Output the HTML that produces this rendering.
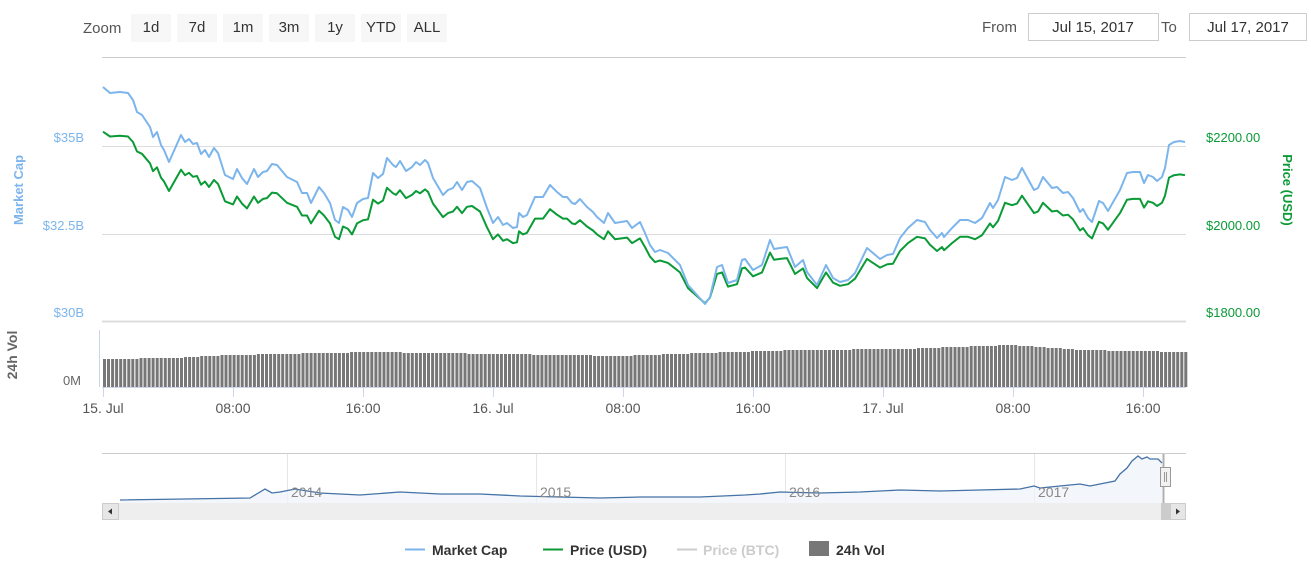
<!DOCTYPE html>
<html><head><meta charset="utf-8"><style>
body{margin:0;background:#fff;font-family:"Liberation Sans","DejaVu Sans",sans-serif;}
svg{display:block}
</style></head><body>
<svg id="s" width="1311" height="567" xmlns="http://www.w3.org/2000/svg" font-family="Liberation Sans, DejaVu Sans, sans-serif">
<text x="83" y="33" font-size="15" fill="#555">Zoom</text>
<g font-size="15" fill="#333" text-anchor="middle">
<rect x="131" y="14" width="40" height="28" fill="#f7f7f7"/><text x="151" y="32">1d</text>
<rect x="177" y="14" width="40" height="28" fill="#f7f7f7"/><text x="197" y="32">7d</text>
<rect x="223" y="14" width="40" height="28" fill="#f7f7f7"/><text x="243" y="32">1m</text>
<rect x="269" y="14" width="40" height="28" fill="#f7f7f7"/><text x="289" y="32">3m</text>
<rect x="315" y="14" width="40" height="28" fill="#f7f7f7"/><text x="335" y="32">1y</text>
<rect x="361" y="14" width="40" height="28" fill="#f7f7f7"/><text x="381" y="32">YTD</text>
<rect x="407" y="14" width="40" height="28" fill="#f7f7f7"/><text x="427" y="32">ALL</text>
</g>
<text x="982" y="32" font-size="15" fill="#555">From</text>
<rect x="1028.5" y="13.5" width="130" height="27" fill="#fff" stroke="#ccc"/>
<text x="1093" y="32" font-size="15" fill="#333" text-anchor="middle">Jul 15, 2017</text>
<text x="1161" y="32" font-size="15" fill="#555">To</text>
<rect x="1189.5" y="13.5" width="117" height="27" fill="#fff" stroke="#ccc"/>
<text x="1248" y="32" font-size="15" fill="#333" text-anchor="middle">Jul 17, 2017</text>

<line x1="102" y1="57.5" x2="1186" y2="57.5" stroke="#ccc"/>
<line x1="102" y1="146.5" x2="1186" y2="146.5" stroke="#ddd"/>
<line x1="102" y1="234.5" x2="1186" y2="234.5" stroke="#ddd"/>
<line x1="102" y1="321.5" x2="1186" y2="321.5" stroke="#ddd" stroke-width="2"/>
<g font-size="13" fill="#7cb5ec" text-anchor="end">
<text x="84" y="142">$35B</text><text x="84" y="230">$32.5B</text><text x="84" y="317">$30B</text>
</g>
<g font-size="13" fill="#0a9a36">
<text x="1206" y="142">$2200.00</text><text x="1206" y="230">$2000.00</text><text x="1206" y="317">$1800.00</text>
</g>
<text transform="translate(23,190) rotate(-90)" font-size="13" font-weight="bold" fill="#7cb5ec" text-anchor="middle">Market Cap</text>
<text transform="translate(1283,190) rotate(90)" font-size="13" font-weight="bold" fill="#0a9a36" text-anchor="middle">Price (USD)</text>
<text transform="translate(17,355) rotate(-90)" font-size="14" font-weight="bold" fill="#666" text-anchor="middle">24h Vol</text>
<text x="81" y="385" font-size="13" fill="#666" text-anchor="end">0M</text>
<line x1="99.5" y1="330" x2="99.5" y2="387" stroke="#ccd6eb"/>
<line x1="102" y1="387.5" x2="1186" y2="387.5" stroke="#ccd6eb"/>
<g id="vol" fill="#777"></g>
<g id="ticks" stroke="#ccd6eb"></g>
<g id="xl" font-size="14" fill="#555" text-anchor="middle"></g>
<path id="green" fill="none" stroke="#0a9a36" stroke-width="2" stroke-linejoin="round"/>
<path id="blue" fill="none" stroke="#7cb5ec" stroke-width="2" stroke-linejoin="round"/>

<line x1="102" y1="453.5" x2="1186" y2="453.5" stroke="#ccc"/>
<g stroke="#e6e6e6"><line x1="287.5" y1="454" x2="287.5" y2="503"/><line x1="536.5" y1="454" x2="536.5" y2="503"/><line x1="785.5" y1="454" x2="785.5" y2="503"/><line x1="1034.5" y1="454" x2="1034.5" y2="503"/></g>
<path d="M120,500 L250,498 L265,489 L272,493 L280,492 L295,489 L320,493 L360,495 L400,492 L440,494 L480,494 L520,496 L560,497 L600,498 L640,497 L700,497 L745,495 L760,494 L780,492 L820,493 L860,492 L900,490 L940,491 L980,490 L1020,489 L1034,486 L1040,488 L1060,486 L1080,484 L1090,486 L1100,484 L1115,481 L1120,474 L1127,468 L1132,461 L1138,456 L1142,459 L1147,457 L1150,459 L1158,459 L1162,463 L1162,503 L120,503Z" fill="#eef2fa" opacity="0.7"/>
<path d="M120,500 L250,498 L265,489 L272,493 L280,492 L295,489 L320,493 L360,495 L400,492 L440,494 L480,494 L520,496 L560,497 L600,498 L640,497 L700,497 L745,495 L760,494 L780,492 L820,493 L860,492 L900,490 L940,491 L980,490 L1020,489 L1034,486 L1040,488 L1060,486 L1080,484 L1090,486 L1100,484 L1115,481 L1120,474 L1127,468 L1132,461 L1138,456 L1142,459 L1147,457 L1150,459 L1158,459 L1162,463" fill="none" stroke="#4572a7" stroke-width="1.3"/>
<g font-size="14" fill="#888"><text x="291" y="497">2014</text><text x="540" y="497">2015</text><text x="789" y="497">2016</text><text x="1038" y="497">2017</text></g>
<line x1="1163.5" y1="454" x2="1163.5" y2="520" stroke="#b0b0b0" stroke-width="2"/>
<rect x="1160.5" y="467.5" width="10" height="19" fill="#f2f2f2" stroke="#999"/>
<line x1="1164.5" y1="472" x2="1164.5" y2="482" stroke="#999"/><line x1="1166.5" y1="472" x2="1166.5" y2="482" stroke="#999"/>
<rect x="102" y="503" width="1084" height="17" fill="#eee"/>
<rect x="1161" y="503" width="9" height="17" fill="#ccc"/>
<rect x="102.5" y="503.5" width="16" height="16" fill="#e6e6e6" stroke="#ccc"/>
<path d="M108,511.5 L112,508.5 L112,514.5Z" fill="#333"/>
<rect x="1170.5" y="503.5" width="15" height="16" fill="#e6e6e6" stroke="#ccc"/>
<path d="M1180,511.5 L1176,508.5 L1176,514.5Z" fill="#333"/>

<g font-size="14" font-weight="bold">
<line x1="405" y1="549.5" x2="425" y2="549.5" stroke="#7cb5ec" stroke-width="2"/><text x="432" y="555" fill="#333">Market Cap</text>
<line x1="543" y1="549.5" x2="563" y2="549.5" stroke="#0a9a36" stroke-width="2"/><text x="570" y="555" fill="#333">Price (USD)</text>
<line x1="677" y1="549.5" x2="697" y2="549.5" stroke="#ccc" stroke-width="2"/><text x="703" y="555" fill="#ccc">Price (BTC)</text>
<rect x="809" y="541" width="20" height="15" fill="#777"/><text x="836" y="555" fill="#333">24h Vol</text>
</g>
</svg>
<script>
var B=[[103,87],[110,93],[120,92],[128,93],[133,100],[137,112],[142,115],[150,127],[153,137],[157,132],[161,145],[164,150],[169,162],[173,153],[181,135],[185,142],[189,139],[193,144],[197,143],[201,154],[205,150],[209,157],[214,148],[218,153],[225,175],[233,179],[237,169],[242,178],[247,184],[254,169],[258,177],[263,172],[267,171],[272,164],[277,165],[287,177],[297,182],[302,193],[307,193],[311,203],[319,187],[324,193],[330,203],[335,220],[339,223],[343,207],[348,210],[352,217],[357,203],[363,199],[368,198],[373,173],[378,178],[383,174],[387,158],[393,165],[396,167],[400,161],[406,171],[412,167],[416,162],[420,165],[425,160],[428,163],[433,178],[443,195],[448,190],[453,188],[457,182],[462,190],[467,182],[472,181],[480,188],[487,208],[493,223],[498,217],[503,225],[507,223],[513,228],[517,227],[519,213],[523,217],[527,215],[535,197],[543,197],[550,185],[557,192],[563,197],[567,197],[572,203],[575,204],[580,199],[587,207],[593,212],[597,217],[604,223],[608,213],[615,223],[627,221],[632,228],[640,222],[645,233],[650,245],[655,252],[660,250],[668,253],[673,258],[680,265],[688,285],[697,295],[705,304],[710,297],[717,267],[722,265],[728,283],[737,280],[742,260],[745,259],[753,270],[762,265],[770,240],[774,249],[780,248],[787,247],[795,267],[803,260],[807,272],[817,285],[826,265],[833,278],[840,282],[848,280],[855,273],[867,248],[873,253],[880,259],[887,255],[893,254],[900,238],[908,228],[917,220],[925,222],[930,230],[937,238],[942,233],[944,237],[952,228],[960,220],[968,220],[975,223],[982,218],[990,203],[993,208],[998,200],[1005,177],[1012,180],[1017,178],[1022,168],[1028,179],[1034,190],[1038,188],[1043,177],[1052,188],[1057,187],[1063,193],[1068,192],[1073,198],[1080,212],[1083,209],[1088,218],[1092,222],[1099,201],[1103,203],[1108,211],[1120,190],[1127,173],[1133,172],[1140,172],[1144,183],[1148,175],[1153,177],[1157,181],[1162,177],[1165,168],[1169,145],[1174,142],[1180,141],[1185,142]];
var d1="",d2="";B.forEach(function(p,i){var g=p[1]+0.21*(300-p[1]);d1+=(i?"L":"M")+p[0]+","+p[1];d2+=(i?"L":"M")+p[0]+","+g.toFixed(1);});
document.getElementById("blue").setAttribute("d",d1);document.getElementById("green").setAttribute("d",d2);
var V=[[103,359],[170,358],[230,355],[370,352],[500,354],[620,356],[700,353],[800,350],[900,349],[1010,345],[1080,350],[1186,352]];
function vh(x){for(var i=0;i<V.length-1;i++){if(x<=V[i+1][0]){var t=(x-V[i][0])/(V[i+1][0]-V[i][0]);return V[i][1]+t*(V[i+1][1]-V[i][1]);}}return 352;}
var g=document.getElementById("vol"),h="";for(var x=103;x<1186;x+=4.05){var y=Math.round(vh(x));h+='<rect x="'+x.toFixed(1)+'" y="'+y+'" width="3" height="'+(387-y)+'"/>';}g.innerHTML=h;
var T=[[103,"15. Jul"],[233,"08:00"],[363,"16:00"],[493,"16. Jul"],[623,"08:00"],[753,"16:00"],[883,"17. Jul"],[1013,"08:00"],[1143,"16:00"]];
var t1="",t2="";T.forEach(function(t){t1+='<line x1="'+(t[0]+.5)+'" y1="388" x2="'+(t[0]+.5)+'" y2="397"/>';t2+='<text x="'+t[0]+'" y="413">'+t[1]+'</text>';});
document.getElementById("ticks").innerHTML=t1;document.getElementById("xl").innerHTML=t2;
</script>
</body></html>
